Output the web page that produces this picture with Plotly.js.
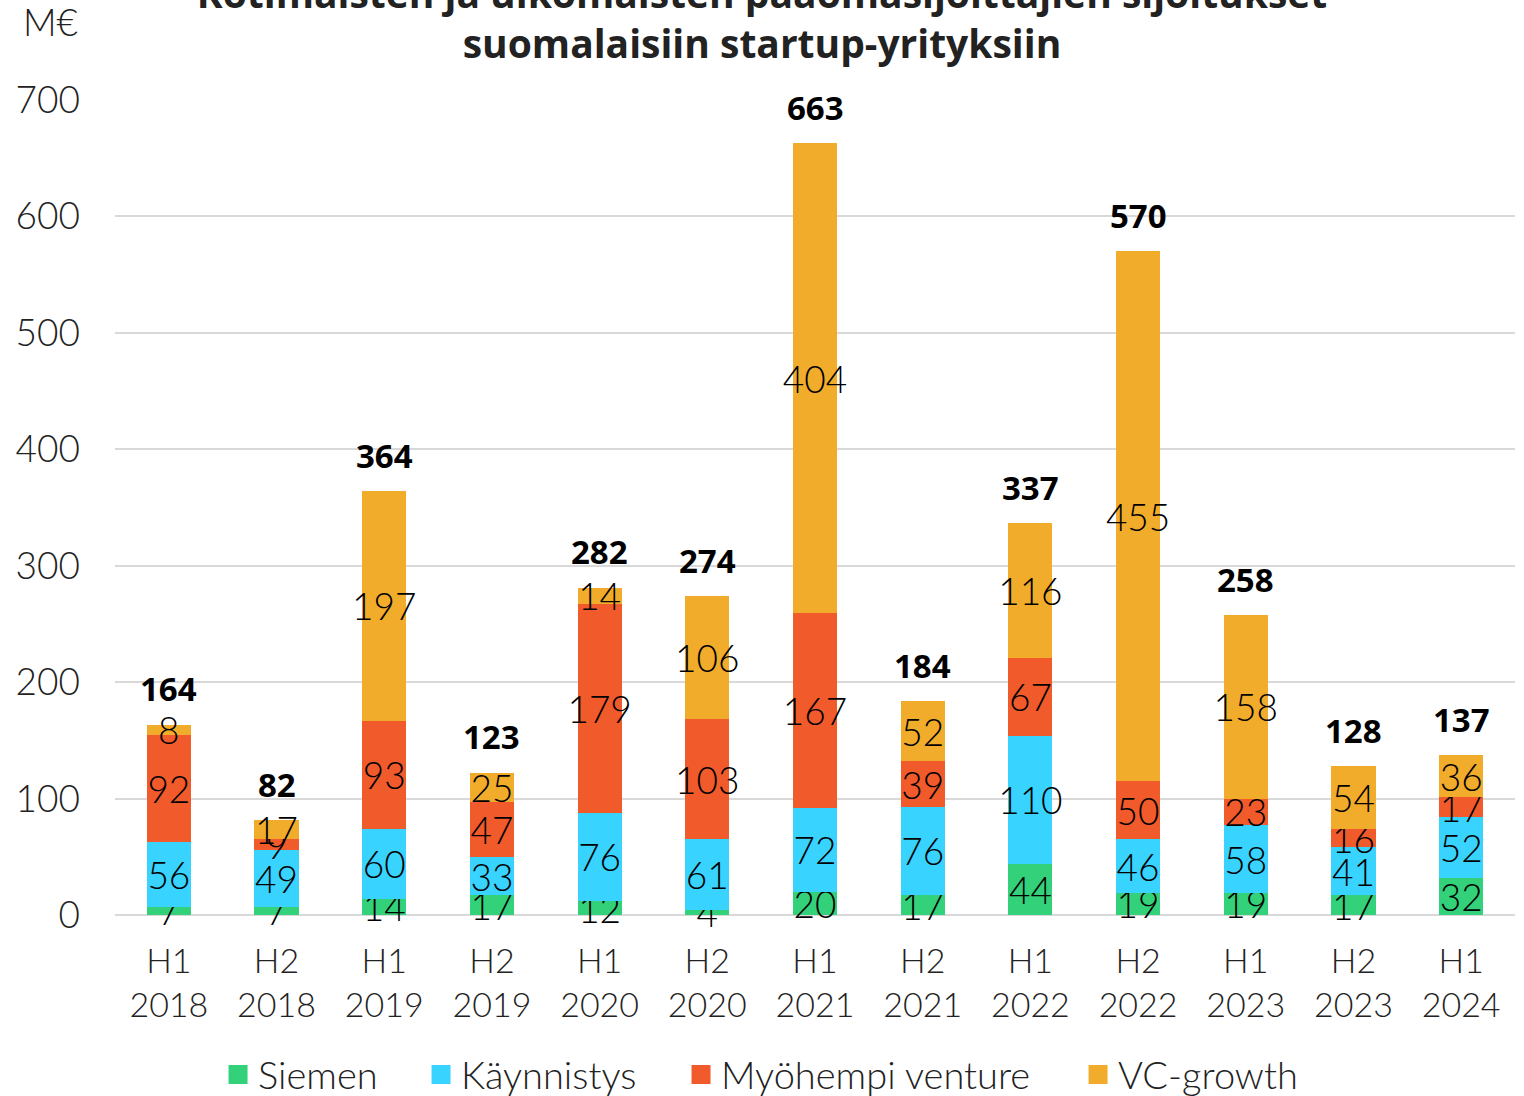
<!DOCTYPE html>
<html>
<head>
<meta charset="utf-8">
<script src="https://cdn.plot.ly/plotly-3.0.1.min.js"></script>
<style>html,body{margin:0;padding:0;background:#fff;}#chart{width:1524px;height:1096px;}</style>
</head>
<body>
<div id="chart"></div>
<script>
const categories = ["H1<br>2018","H2<br>2018","H1<br>2019","H2<br>2019","H1<br>2020","H2<br>2020","H1<br>2021","H2<br>2021","H1<br>2022","H2<br>2022","H1<br>2023","H2<br>2023","H1<br>2024"];
const siemen = [7,7,14,17,12,4,20,17,44,19,19,17,32];
const kaynnistys = [56,49,60,33,76,61,72,76,110,46,58,41,52];
const myohempi = [92,9,93,47,179,103,167,39,67,50,23,16,17];
const vcGrowth = [8,17,197,25,14,106,404,52,116,455,158,54,36];
const totals = [164,82,364,123,282,274,663,184,337,570,258,128,137];
const yTicks = [0,100,200,300,400,500,600,700];

const THIN = "Lato, 'Open Sans', sans-serif";
const BOLD = "'Open Sans', Lato, sans-serif";
const series = [
  {name:"Siemen", y:siemen, color:"#33D17A", legend:"legend", lx:0.0736},
  {name:"Käynnistys", y:kaynnistys, color:"#38D3FF", legend:"legend2", lx:0.2186},
  {name:"Myöhempi venture", y:myohempi, color:"#F15A2B", legend:"legend3", lx:0.4043},
  {name:"VC-growth", y:vcGrowth, color:"#F2AC2B", legend:"legend4", lx:0.6879}
];
const traces = series.map(s => ({
  type:"bar", name:s.name, x:categories, y:s.y,
  marker:{color:s.color}, showlegend:false,
  text:s.y.map(String), textposition:"inside", insidetextanchor:"middle",
  constraintext:"none", textangle:0, cliponaxis:false,
  textfont:{family:THIN, size:37, color:"#000", weight:300},
  hoverinfo:"name+y"
}));
// legend entries with larger square symbols
series.forEach(s => traces.push({
  type:"scatter", mode:"markers", name:s.name, x:[categories[0]], y:[null],
  marker:{symbol:"square", size:16, color:s.color, line:{color:s.color, width:3}},
  showlegend:true, legend:s.legend, hoverinfo:"skip"
}));

const annotations = categories.map((c,i)=>({
  x:c, y:totals[i], xref:"x", yref:"y", text:"<b>"+totals[i]+"</b>",
  showarrow:false, yanchor:"bottom", yshift:11,
  font:{family:BOLD, size:33, color:"#000", weight:800}
}));
annotations.push({
  xref:"paper", yref:"paper", x:-0.046, y:1.096, text:"M€", showarrow:false,
  xanchor:"center", yanchor:"middle", font:{family:THIN, size:37, color:"#222", weight:300}
});

const legendBase = {orientation:"h", y:-0.196, yanchor:"middle", xanchor:"left",
  font:{family:THIN, size:38, color:"#222", weight:300}, itemwidth:30, itemclick:false, bgcolor:"rgba(0,0,0,0)"};

const layout = {
  width:1524, height:1096,
  margin:{l:115, r:9, t:100, b:181, autoexpand:false},
  paper_bgcolor:"#fff", plot_bgcolor:"#fff",
  barmode:"stack", bargap:0.59,
  showlegend:true,
  title:{text:"<b>Kotimaisten ja ulkomaisten pääomasijoittajien sijoitukset<br>suomalaisiin startup-yrityksiin</b>",
    x:0.5, xref:"container", xanchor:"center", y:0.993, yref:"container", yanchor:"middle",
    font:{family:BOLD, size:39, color:"#222", weight:800}},
  xaxis:{type:"category", range:[-0.5,12.5], showgrid:false, zeroline:false, showline:false,
    ticks:"", tickfont:{family:THIN, size:34, color:"#222", weight:300}, ticklabelstandoff:23},
  yaxis:{range:[0,700], tickvals:yTicks, ticktext:yTicks.map(String), showgrid:true, gridcolor:"#d9d9d9", gridwidth:2,
    zeroline:true, zerolinecolor:"#d9d9d9", zerolinewidth:2, showline:false, ticks:"",
    tickfont:{family:THIN, size:37, color:"#222", weight:300}, ticklabelstandoff:34},
  annotations:annotations
};
series.forEach(s => { layout[s.legend] = Object.assign({}, legendBase, {x:s.lx}); });
Plotly.newPlot("chart", traces, layout, {displayModeBar:false, staticPlot:true});
</script>
</body>
</html>
